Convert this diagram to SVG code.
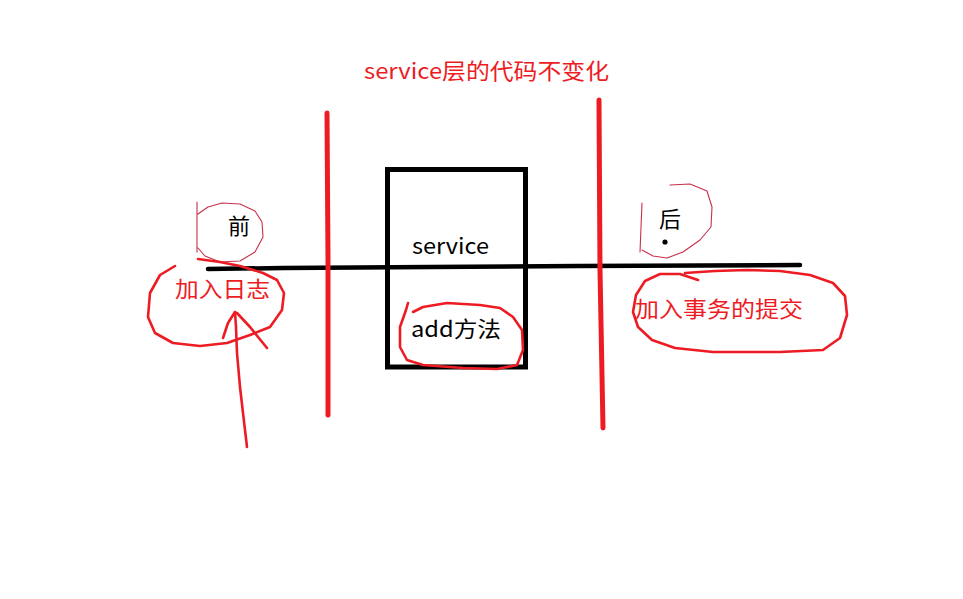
<svg xmlns="http://www.w3.org/2000/svg" width="963" height="599" viewBox="0 0 963 599">
<style>
.red{fill:none;stroke:#ED1C24;stroke-linecap:round;stroke-linejoin:round}
.thick{stroke-width:5}
.hand{stroke-width:2.6}
.thin{fill:none;stroke:#C8304A;stroke-width:1.1;stroke-linecap:round;stroke-linejoin:round}
.blk{fill:none;stroke:#000;stroke-linecap:round;stroke-linejoin:round}
.t{font-family:"Microsoft YaHei","Noto Sans CJK SC","Noto Sans",sans-serif;font-size:22px}
.tr{fill:#ED1C24}
.tb{fill:#000}
</style>
<rect width="963" height="599" fill="#fff"/>
<g id="title"><text class="t tr" x="364" y="79" textLength="245" lengthAdjust="spacingAndGlyphs">service层的代码不变化</text></g>
<g id="connectors">
<polyline class="blk" stroke-width="4.5" points="208,269 283,268 430,267 578,266 800,265"/>
<polyline class="red thick" points="327,113 328,260 328,415"/>
<polyline class="red thick" points="599,100 600,270 603,428"/>
<polyline class="red hand" points="247,447 243,413 240,387 237,353 236,327 235,312"/>
<polyline class="red hand" points="235,312 228,323 223,338"/>
<polyline class="red hand" points="237,313 250,327 267,348"/>
</g>
<g id="service-box">
<rect x="387.5" y="169.5" width="138" height="197.5" fill="none" stroke="#000" stroke-width="5"/>
<text class="t tb" x="412" y="254" textLength="77" lengthAdjust="spacingAndGlyphs">service</text>
<path class="red hand" d="M408,303 L406,310 L400,327 L400,347 L407,360 L423,365 L463,368 L497,369 L517,365 L523,350 L522,330 L513,317 L500,308 L480,305 L447,303 L423,307 L413,312"/>
<text class="t tb" x="411" y="337" textLength="90" lengthAdjust="spacingAndGlyphs">add方法</text>
</g>
<g id="before">
<path class="thin" d="M197,202 L197,252 M198,248 L205,256 L220,262 L240,261 L255,252 L263,237 L262,222 L255,211 L240,204 L222,203 L208,207 L198,214"/>
<text class="t tb" x="228" y="234">前</text>
</g>
<g id="log">
<path class="red hand" d="M175,266 L160,275 L150,293 L148,317 L155,333 L173,343 L200,346 L227,343 L250,335 L270,327 L282,310 L284,293 L277,280 L263,273 L240,266 L220,262 L198,259"/>
<text class="t tr" x="175" y="297" textLength="95" lengthAdjust="spacingAndGlyphs">加入日志</text>
</g>
<g id="after">
<path class="thin" d="M642,203 L640,252 M670,185 L690,184 L707,191 L712,207 L711,227 L700,240 L683,252 L667,258 L653,256 L642,250"/>
<text class="t tb" x="659" y="227">后</text>
<circle cx="665" cy="242" r="2.6" fill="#000"/>
</g>
<g id="commit">
<path class="red hand" d="M698,280 L680,274 L660,274 L645,281 L636,295 L633,312 L638,327 L652,340 L675,348 L713,352 L780,352 L823,350 L840,338 L847,315 L845,296 L833,283 L810,275 L780,271 L747,270 L715,271 L685,273"/>
<text class="t tr" x="635" y="317" textLength="168" lengthAdjust="spacingAndGlyphs">加入事务的提交</text>
</g>
</svg>
